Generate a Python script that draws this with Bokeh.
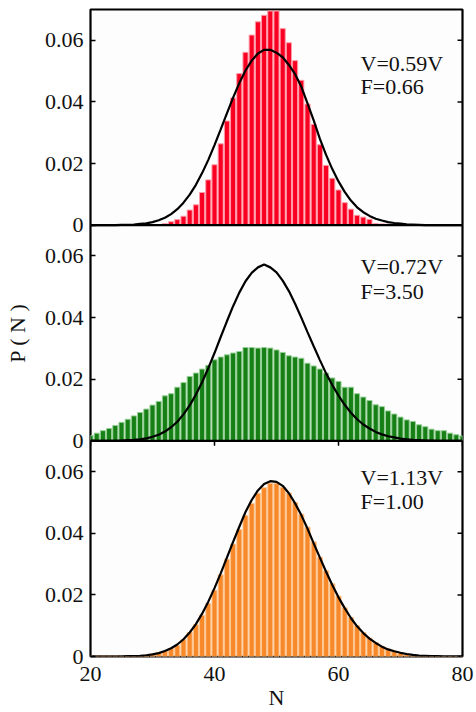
from bokeh.plotting import figure
from bokeh.models import (Range1d, FixedTicker, Label, Span,
                          CustomJSTickFormatter)
from bokeh.embed import file_html
from bokeh.resources import INLINE

# ---- data ----
N = list(range(20, 81))

red_hist = [0, 0, 0, 0, 0, 0, 0, 0, 0, 0.0001,
            0.0001, 0.0002, 0.0005, 0.0011, 0.0018, 0.0029, 0.0049, 0.0066, 0.0106, 0.0147,
            0.0196, 0.0264, 0.0338, 0.0413, 0.0492, 0.0561, 0.0617, 0.0660, 0.0681, 0.0695,
            0.0695, 0.0638, 0.0592, 0.0534, 0.0470, 0.0393, 0.0327, 0.0261, 0.0194, 0.0152,
            0.0114, 0.0073, 0.0052, 0.0032, 0.0026, 0.0019, 0.0005, 0.0004, 0.0003, 0.0001,
            0, 0, 0, 0, 0, 0, 0, 0, 0, 0, 0]

green_hist = [0.0017, 0.0025, 0.0033, 0.0040, 0.0050, 0.0060, 0.0070, 0.0081, 0.0092, 0.0103,
              0.0116, 0.0128, 0.0146, 0.0153, 0.0174, 0.0189, 0.0209, 0.0220, 0.0233, 0.0245,
              0.0263, 0.0272, 0.0279, 0.0285, 0.0290, 0.0303, 0.0303, 0.0301, 0.0303, 0.0301,
              0.0295, 0.0287, 0.0276, 0.0272, 0.0268, 0.0252, 0.0243, 0.0233, 0.0220, 0.0204,
              0.0193, 0.0174, 0.0174, 0.0153, 0.0142, 0.0131, 0.0117, 0.0111, 0.0097, 0.0087,
              0.0077, 0.0068, 0.0063, 0.0052, 0.0046, 0.0038, 0.0033, 0.0033, 0.0025, 0.0020,
              0.0016]

orange_hist = [0.0002, 0.0002, 0.0002, 0.0002, 0.0002, 0.0001, 0.0001, 0.0002, 0.0003, 0.0005,
               0.0008, 0.0013, 0.0018, 0.0026, 0.0036, 0.0055, 0.0078, 0.0103, 0.0134, 0.0172,
               0.0215, 0.0265, 0.0316, 0.0365, 0.0412, 0.0458, 0.0497, 0.0530, 0.0548, 0.0562,
               0.0562, 0.0549, 0.0530, 0.0500, 0.0462, 0.0420, 0.0372, 0.0322, 0.0278, 0.0236,
               0.0196, 0.0158, 0.0127, 0.0100, 0.0078, 0.0060, 0.0045, 0.0033, 0.0024, 0.0017,
               0.0012, 0.0008, 0.0005, 0.0003, 0.0002, 0.0001, 0.0001, 0, 0, 0, 0]

curve_top = [0, 0, 0, 0, 0, 0.0001, 0.0001, 0.0002, 0.0004, 0.0006,
             0.0010, 0.0016, 0.0024, 0.0036, 0.0052, 0.0073, 0.0099, 0.0131, 0.0169, 0.0212,
             0.0260, 0.0311, 0.0363, 0.0414, 0.0461, 0.0502, 0.0534, 0.0557, 0.0569, 0.0569,
             0.0560, 0.0545, 0.0520, 0.0490, 0.0450, 0.0395, 0.0340, 0.0280, 0.0228, 0.0182,
             0.0142, 0.0108, 0.0080, 0.0058, 0.0042, 0.0030, 0.0021, 0.0015, 0.0010, 0.0007,
             0.0005, 0.0003, 0.0002, 0.0001, 0, 0, 0, 0, 0, 0, 0]

curve_mid = [0, 0, 0, 0, 0, 0.0001, 0.0002, 0.0003, 0.0005, 0.0008,
             0.0013, 0.0020, 0.0030, 0.0044, 0.0062, 0.0086, 0.0115, 0.0150, 0.0190, 0.0236,
             0.0285, 0.0337, 0.0388, 0.0437, 0.0481, 0.0518, 0.0545, 0.0563, 0.0572, 0.0563,
             0.0547, 0.0520, 0.0486, 0.0445, 0.0400, 0.0353, 0.0307, 0.0262, 0.0219, 0.0181,
             0.0147, 0.0117, 0.0091, 0.0070, 0.0053, 0.0040, 0.0029, 0.0021, 0.0015, 0.0011,
             0.0007, 0.0005, 0.0003, 0.0002, 0.0001, 0.0001, 0, 0, 0, 0, 0]

curve_bot = [0, 0, 0, 0, 0, 0, 0.0001, 0.0001, 0.0002, 0.0004,
             0.0007, 0.0011, 0.0018, 0.0027, 0.0039, 0.0056, 0.0078, 0.0105, 0.0139, 0.0178,
             0.0222, 0.0270, 0.0321, 0.0372, 0.0421, 0.0469, 0.0508, 0.0539, 0.0560, 0.0569,
             0.0567, 0.0554, 0.0530, 0.0497, 0.0459, 0.0415, 0.0367, 0.0321, 0.0275, 0.0232,
             0.0192, 0.0157, 0.0125, 0.0098, 0.0076, 0.0058, 0.0044, 0.0032, 0.0023, 0.0017,
             0.0012, 0.0008, 0.0005, 0.0003, 0.0002, 0.0001, 0.0001, 0, 0, 0, 0]

v_labels = ["V=0.59V", "V=0.72V", "V=1.13V"]
f_labels = ["F=0.66", "F=3.50", "F=1.00"]
y_ticks = [0, 0.02, 0.04, 0.06]
x_ticks = [20, 40, 60, 80]
PANEL_MAX = 0.07

FONT = "Liberation Serif"
TXT = "#111111"

# one figure, three stacked panels (each panel has its own y range)
p = figure(width=476, height=712, x_range=Range1d(20, 80),
           y_range=Range1d(0, 3 * PANEL_MAX),
           output_backend="svg", toolbar_location=None,
           min_border_left=90, min_border_right=14, min_border_top=9,
           min_border_bottom=53)
p.extra_y_ranges = {
    "top": Range1d(-2 * PANEL_MAX, PANEL_MAX),
    "mid": Range1d(-PANEL_MAX, 2 * PANEL_MAX),
}
p.background_fill_color = "#fdfdfd"
p.border_fill_color = "white"
p.grid.visible = False
p.outline_line_color = "black"
p.outline_line_width = 2.2

panels = [
    ("top", red_hist, curve_top, "#f90022", "#ff9aa8", 0),
    ("mid", green_hist, curve_mid, "#167f16", "#96d096", 1),
    ("default", orange_hist, curve_bot, "#f8892a", "#fcc690", 2),
]
text_y = [(0.0526, 0.0449), (0.0567, 0.0484), (0.0581, 0.0502)]

for rname, hist, curve, col, edge, i in panels:
    p.vbar(x=N, top=hist, bottom=0, width=0.82, fill_color=col,
           line_color=edge, line_width=1, y_range_name=rname)
    p.line(N, curve, line_color="black", line_width=2.2, y_range_name=rname)
    # inward ticks on the right edge
    p.segment(x0=[80] * len(y_ticks), x1=[79.2] * len(y_ticks), y0=y_ticks, y1=y_ticks,
              line_color="black", line_width=1.5, y_range_name=rname)
    p.add_layout(Label(x=63.55, y=text_y[i][0], text=v_labels[i], text_font=FONT,
                       text_font_size="22px", text_baseline="middle", text_align="left",
                       text_color=TXT, y_range_name=rname))
    p.add_layout(Label(x=63.55, y=text_y[i][1], text=f_labels[i], text_font=FONT,
                       text_font_size="22px", text_baseline="middle", text_align="left",
                       text_color=TXT, y_range_name=rname))

# inward ticks along the top edge of the bottom panel
p.segment(x0=x_ticks, x1=x_ticks, y0=[PANEL_MAX] * len(x_ticks),
          y1=[PANEL_MAX - 0.0016] * len(x_ticks), line_color="black", line_width=1.5)

# panel separators
for k in (1, 2):
    p.add_layout(Span(location=k * PANEL_MAX, dimension="width",
                      line_color="black", line_width=2.2))

# left axis: the same tick labels repeated for each panel
ya = p.yaxis[0]
ya.ticker = FixedTicker(ticks=[t + k * PANEL_MAX for k in range(3) for t in y_ticks])
ya.formatter = CustomJSTickFormatter(code="""
    const m = Math.round(tick * 100) % 7;
    return m === 0 ? "0" : "0.0" + m;
""")
ya.major_tick_in = 5
ya.major_tick_out = 0
ya.major_tick_line_width = 1.5
ya.minor_tick_line_color = None
ya.axis_line_color = None
ya.major_label_text_font = FONT
ya.major_label_text_font_size = "22px"
ya.major_label_text_color = TXT
ya.major_label_standoff = 7
ya.axis_label = "P ( N )"
ya.axis_label_text_font = FONT
ya.axis_label_text_font_size = "22px"
ya.axis_label_text_font_style = "normal"
ya.axis_label_text_color = TXT
ya.axis_label_standoff = 12

xa = p.xaxis[0]
xa.ticker = FixedTicker(ticks=x_ticks)
xa.major_tick_in = 0
xa.major_tick_out = 0
xa.minor_tick_line_color = None
xa.axis_line_color = None
xa.major_label_text_font = FONT
xa.major_label_text_font_size = "22px"
xa.major_label_text_color = TXT
xa.major_label_standoff = 10
xa.axis_label = "N"
xa.axis_label_text_font = FONT
xa.axis_label_text_font_size = "22px"
xa.axis_label_text_font_style = "normal"
xa.axis_label_text_color = TXT
xa.axis_label_standoff = 1

open("out.html", "w").write(file_html(p, INLINE))
